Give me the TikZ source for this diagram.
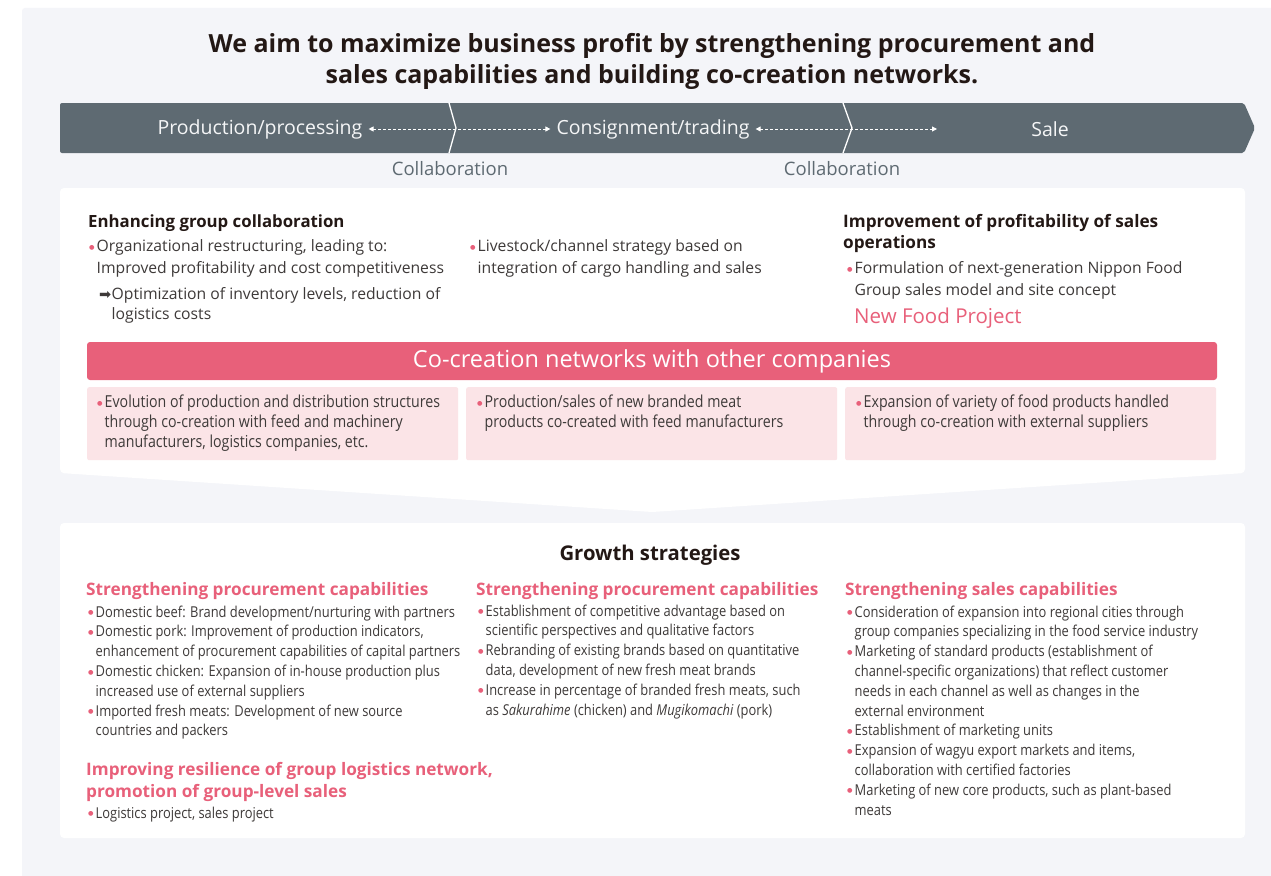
\documentclass[tikz,border=0pt]{standalone}
\usepackage{fontspec}
\setmainfont{Open Sans}
\newfontfamily\narrow[FakeStretch=0.86]{Open Sans}
\newfontfamily\dingfont{DejaVu Sans}
\usetikzlibrary{arrows.meta}

\definecolor{panelbg}{HTML}{F4F5F9}
\definecolor{slate}{HTML}{5E6A72}
\definecolor{rose}{HTML}{E8607A}
\definecolor{roselight}{HTML}{FBE4E7}
\definecolor{bodyink}{HTML}{3E3A39}
\definecolor{headink}{HTML}{231815}

% pink bullet, and the indent that lines up wrapped lines with it
\newlength{\bulletw}
\setlength{\bulletw}{7.5pt}
\newcommand{\pinkdot}{\makebox[\bulletw][l]{\textcolor{rose}{\raisebox{2.4pt}{\dingfont\fontsize{6.3}{6.3}\selectfont ●}}}}
\newcommand{\wrapin}{\hspace*{\bulletw}}
\newcommand{\thenarrow}{\makebox[12.5pt][l]{\raisebox{0.3pt}{\dingfont\fontsize{14.5}{14.5}\selectfont ➡}}}

\begin{document}
\begin{tikzpicture}[x=1pt,y=-1pt,
    every node/.style={inner sep=0pt, text=bodyink},
    headline/.style={font=\fontsize{25}{31}\selectfont\bfseries, text=headink, align=center},
    stage/.style={font=\fontsize{19.5}{22}\selectfont, text=white!94!slate, inner sep=6pt},
    collab/.style={white, line width=0.9pt, dash pattern=on 3pt off 2pt,
        {Triangle[length=5pt,width=5pt]}-{Triangle[length=5pt,width=5pt]}},
    collabtag/.style={font=\fontsize{18.5}{20}\selectfont, text=slate},
    subhead/.style={font=\fontsize{16.8}{21}\selectfont\bfseries, text=headink, align=left},
    uptext/.style={font=\fontsize{15.7}{21.5}\selectfont, align=left},
    cobar/.style={fill=rose, rounded corners=3pt, minimum width=1130pt, minimum height=38pt,
        font=\fontsize{23.5}{26}\selectfont, text=white},
    softbox/.style={fill=roselight, rounded corners=2pt, minimum width=371pt, minimum height=73pt},
    boxtext/.style={font=\narrow\fontsize{16.5}{20}\selectfont, align=left},
    growthhead/.style={font=\fontsize{20.3}{22}\selectfont\bfseries, text=headink},
    pinkhead/.style={font=\fontsize{17.2}{22}\selectfont\bfseries, text=rose, align=left},
    bodytext/.style={font=\narrow\fontsize{15}{19.8}\selectfont, align=left}
  ]
  \useasboundingbox (0,0) rectangle (1271,875);
  \fill[white] (0,0) rectangle (1271,875);
  \fill[panelbg, rounded corners=3pt] (22,8) rectangle (1275,880);

  % headline (multi-line nodes sit on their last baseline)
  \node[headline, anchor=base] (aim) at (652,83) {We aim to maximize business profit by strengthening procurement and\\sales capabilities and building co-creation networks.};

  % value chain banner
  \fill[slate, rounded corners=2pt] (60,103) -- (1244,103) -- (1255,128) -- (1244,153) -- (60,153) -- cycle;
  \draw[white, line width=1.3pt] (449,103) -- (456,128) -- (449,153);
  \draw[white, line width=1.3pt] (843,103) -- (852,128) -- (843,153);
  \node[stage] (prod) at (260,129) {Production/processing};
  \node[stage] (consign) at (653,129) {Consignment/trading};
  \node[stage] (sale) at (1050,129) {Sale};
  \coordinate (saleside) at (937,129);
  \draw[collab] (prod) -- (consign);
  \draw[collab] (consign) -- (saleside);
  \node[collabtag] (tag1) at (450,169) {Collaboration};
  \node[collabtag] (tag2) at (842,169) {Collaboration};

  % upper panel with the pointer down
  \fill[white, rounded corners=4pt] (60,188) -- (1245,188) -- (1245,473) -- (652,512) -- (60,473) -- cycle;

  \node[subhead, anchor=base west] (grouphead) at (88,227) {Enhancing group collaboration};
  \node[uptext, anchor=base west] (groupitem) at (89,273) {\pinkdot Organizational restructuring, leading to:\\\wrapin Improved profitability and cost competitiveness};
  \node[uptext, anchor=base west, font=\fontsize{15.7}{19.5}\selectfont] (groupresult) at (99,319) {\thenarrow Optimization of inventory levels, reduction of\\\hspace*{12.5pt}logistics costs};
  \node[uptext, anchor=base west] (channelitem) at (470,273) {\pinkdot Livestock/channel strategy based on\\\wrapin integration of cargo handling and sales};
  \node[subhead, anchor=base west, font=\fontsize{17.2}{21}\selectfont\bfseries] (saleshead) at (843,248) {Improvement of profitability of sales\\operations};
  \node[uptext, anchor=base west] (salesitem) at (847,295) {\pinkdot Formulation of next-generation Nippon Food\\\wrapin Group sales model and site concept};
  \node[anchor=base west, font=\fontsize{20.5}{24}\selectfont, text=rose] (newfood) at (854,323) {New Food Project};

  % co-creation networks
  \node[cobar] (cocreation) at (652,361) {Co-creation networks with other companies};
  \node[softbox, anchor=north west] (box1) at (87,387) {};
  \node[softbox, anchor=north west] (box2) at (466,387) {};
  \node[softbox, anchor=north west] (box3) at (845,387) {};
  \node[boxtext, anchor=base west] (cotext1) at (97,447.5) {\pinkdot Evolution of production and distribution structures\\\wrapin through co-creation with feed and machinery\\\wrapin manufacturers, logistics companies, etc.};
  \node[boxtext, anchor=base west] (cotext2) at (477,427.5) {\pinkdot Production/sales of new branded meat\\\wrapin products co-created with feed manufacturers};
  \node[boxtext, anchor=base west] (cotext3) at (856,427.5) {\pinkdot Expansion of variety of food products handled\\\wrapin through co-creation with external suppliers};

  % growth strategies
  \fill[white, rounded corners=4pt] (60,523) rectangle (1245,838);
  \node[growthhead, anchor=base] (growth) at (650,560) {Growth strategies};

  \node[pinkhead, anchor=base west] (procurehead) at (86,595) {Strengthening procurement capabilities};
  \node[bodytext, anchor=base west] (procurelist) at (88,735.8) {\pinkdot Domestic beef: Brand development/nurturing with partners\\
    \pinkdot Domestic pork: Improvement of production indicators,\\
    \wrapin enhancement of procurement capabilities of capital partners\\
    \pinkdot Domestic chicken: Expansion of in-house production plus\\
    \wrapin increased use of external suppliers\\
    \pinkdot Imported fresh meats: Development of new source\\
    \wrapin countries and packers};
  \node[pinkhead, anchor=base west] (logihead) at (86,797) {Improving resilience of group logistics network,\\promotion of group-level sales};
  \node[bodytext, anchor=base west] (logilist) at (88,818) {\pinkdot Logistics project, sales project};

  \node[pinkhead, anchor=base west] (brandhead) at (476,595) {Strengthening procurement capabilities};
  \node[bodytext, anchor=base west] (brandlist) at (478,715) {\pinkdot Establishment of competitive advantage based on\\
    \wrapin scientific perspectives and qualitative factors\\
    \pinkdot Rebranding of existing brands based on quantitative\\
    \wrapin data, development of new fresh meat brands\\
    \pinkdot Increase in percentage of branded fresh meats, such\\
    \wrapin as \textit{Sakurahime} (chicken) and \textit{Mugikomachi} (pork)};

  \node[pinkhead, anchor=base west] (sellhead) at (845,595) {Strengthening sales capabilities};
  \node[bodytext, anchor=base west] (selllist) at (847,815) {\pinkdot Consideration of expansion into regional cities through\\
    \wrapin group companies specializing in the food service industry\\
    \pinkdot Marketing of standard products (establishment of\\
    \wrapin channel-specific organizations) that reflect customer\\
    \wrapin needs in each channel as well as changes in the\\
    \wrapin external environment\\
    \pinkdot Establishment of marketing units\\
    \pinkdot Expansion of wagyu export markets and items,\\
    \wrapin collaboration with certified factories\\
    \pinkdot Marketing of new core products, such as plant-based\\
    \wrapin meats};
\end{tikzpicture}
\end{document}
